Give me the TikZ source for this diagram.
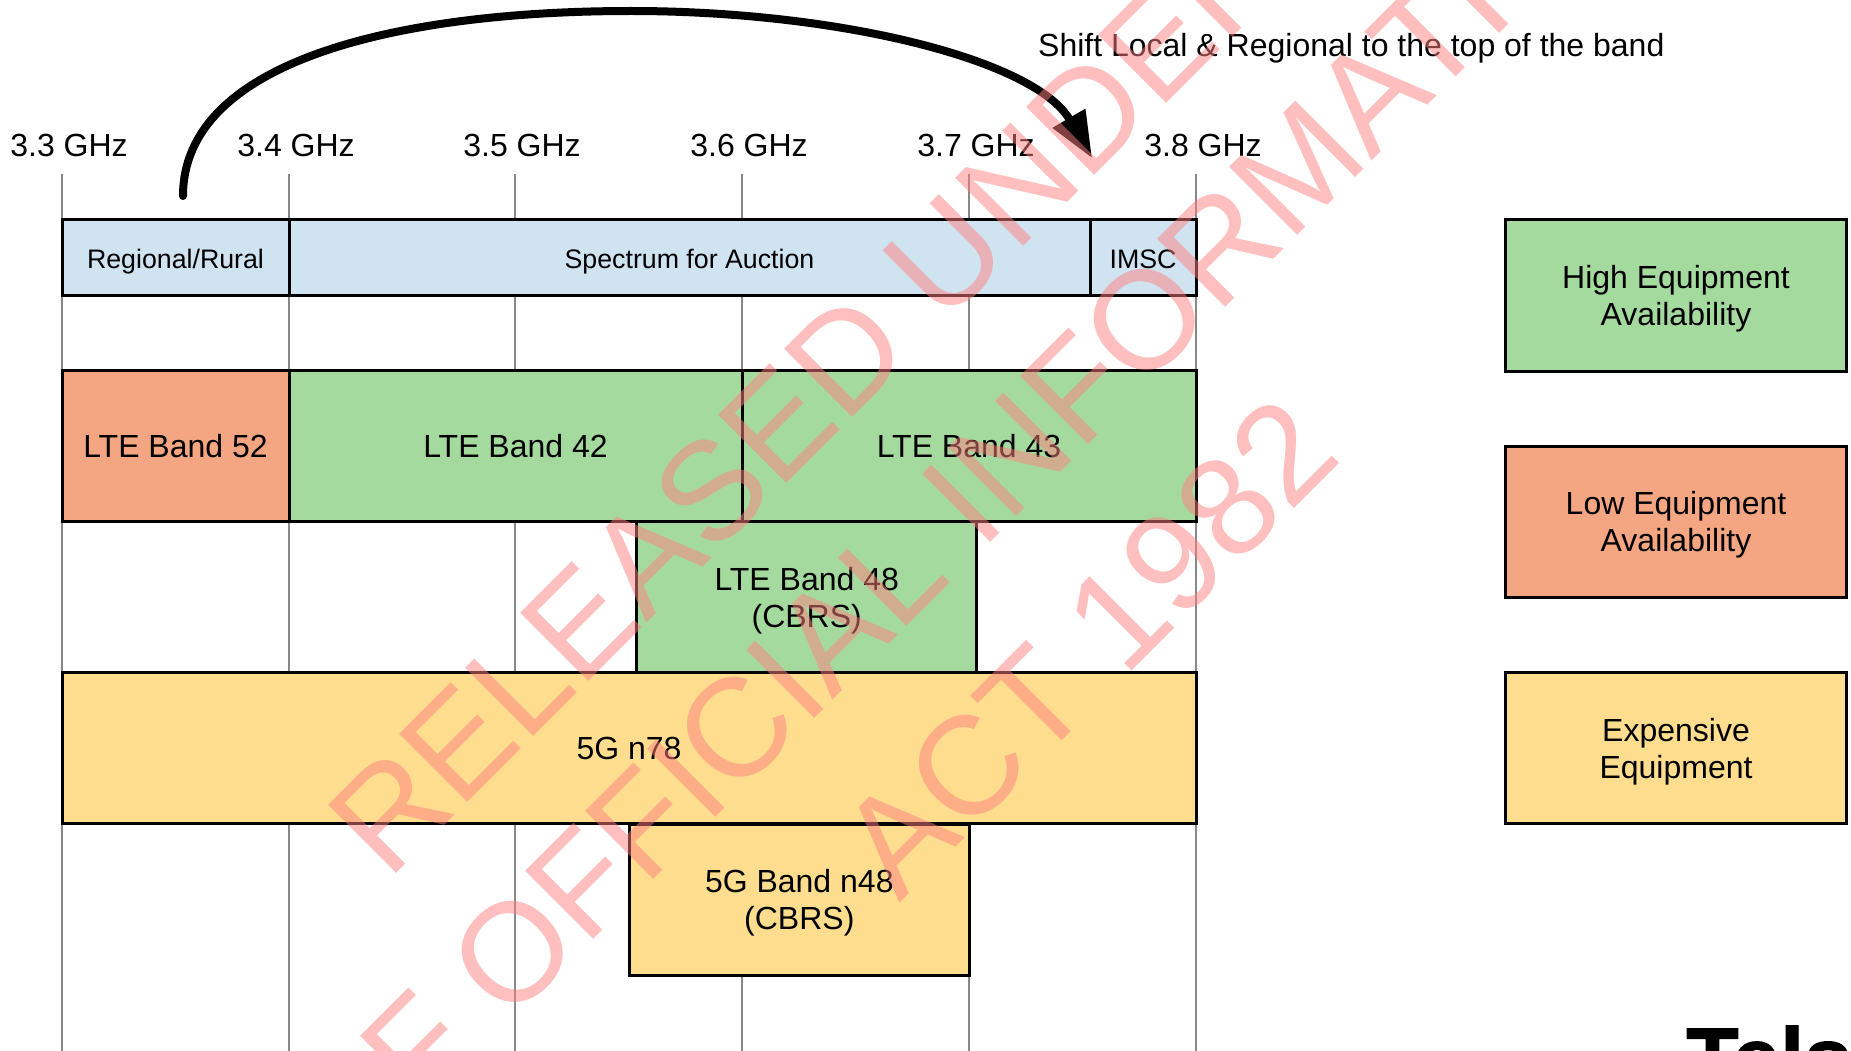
\documentclass[tikz,border=0pt]{standalone}
\usepackage{fontspec}
\setmainfont{Liberation Sans}
\newfontfamily\logofont[FakeBold=1.5]{Liberation Sans Bold}
\usetikzlibrary{arrows.meta}
\definecolor{cblue}{HTML}{D0E3F0}
\definecolor{cgreen}{HTML}{A5DA9E}
\definecolor{corange}{HTML}{F4A683}
\definecolor{cyellow}{HTML}{FEDD8E}
\definecolor{cgrid}{HTML}{888888}
\definecolor{cstamp}{HTML}{FF8080}
\tikzset{
  x=1pt,y=-1pt,
  bandbox/.style={draw=black,line width=3pt,rectangle,inner sep=0pt,outer sep=0pt,align=center,font=\fontsize{32}{37}\selectfont},
  smallbox/.style={bandbox,fill=cblue,font=\fontsize{26.75}{31}\selectfont,text height=22pt,text depth=0pt},
  greenbox/.style={bandbox,fill=cgreen},
  orangebox/.style={bandbox,fill=corange},
  yellowbox/.style={bandbox,fill=cyellow},
  twolines/.style={text depth=0pt},
  ticklabel/.style={font=\fontsize{32}{37}\selectfont,inner sep=0pt},
  gridline/.style={draw=cgrid,line width=2pt},
  bigarrow/.style={draw=black,line width=8pt,line cap=round,-{Triangle[length=46pt,width=36pt]}},
  stamp/.style={text=cstamp,opacity=0.5,font=\fontsize{140}{140}\selectfont,rotate=45,inner sep=0pt},
  logo/.style={font=\fontsize{86}{86}\selectfont\logofont,inner sep=0pt,anchor=base west},
}
\begin{document}
\begin{tikzpicture}
\useasboundingbox (0,0) rectangle (1851,1051);
\clip (0,0) rectangle (1851,1051);
\fill[white] (0,0) rectangle (1851,1051);
% grid
\foreach \n/\x/\lab/\lx in {a/62/3.3/69,b/289/3.4/296,c/515/3.5/522,d/742/3.6/749,e/969/3.7/976,f/1196/3.8/1203}{
  \coordinate (top\n) at (\x,174);
  \coordinate (bot\n) at (\x,1051);
  \draw[gridline] (top\n) -- (bot\n);
  \node[ticklabel] (lab\n) at (\lx,145) {\lab\ GHz};
}
% spectrum row
\node[smallbox,minimum width=227pt,minimum height=76pt] (regional) at (175.5,257) {Regional/Rural};
\node[smallbox,minimum width=801pt,minimum height=76pt] (auction) at (689.5,257) {Spectrum for Auction};
\node[smallbox,minimum width=106pt,minimum height=76pt] (imsc) at (1143,257) {IMSC};
% bands
\node[greenbox,twolines,minimum width=340.5pt,minimum height=151pt] (b48) at (806.7,597) {LTE Band 48\\(CBRS)};
\node[orangebox,minimum width=227pt,minimum height=151pt] (b52) at (175.5,446) {LTE Band 52};
\node[greenbox,minimum width=453pt,minimum height=151pt] (b42) at (515.5,446) {LTE Band 42};
\node[greenbox,minimum width=454pt,minimum height=151pt] (b43) at (969,446) {LTE Band 43};
\node[yellowbox,twolines,minimum width=339.5pt,minimum height=151pt] (n48) at (799.3,899.5) {5G Band n48\\(CBRS)};
\node[yellowbox,minimum width=1134pt,minimum height=151pt] (n78) at (629,748) {5G n78};
% legend
\node[greenbox,twolines,minimum width=341pt,minimum height=152pt] (lhigh) at (1676,295) {High Equipment\\Availability};
\node[orangebox,twolines,minimum width=341pt,minimum height=151pt] (llow) at (1676,521.5) {Low Equipment\\Availability};
\node[yellowbox,twolines,minimum width=341pt,minimum height=151pt] (lexp) at (1676,748) {Expensive\\Equipment};
% arrow
\node[ticklabel,anchor=west] (shift) at (1038,48) {Shift Local \& Regional to the top of the band};
\coordinate (arrowfrom) at (183,196);
\coordinate (arrowapex) at (631,11);
\coordinate (arrowto) at (1092,158);
\draw[bigarrow] (arrowfrom) .. controls (183,60) and (400,11) .. (arrowapex)
  .. controls (840,11) and (1035,60) .. (arrowto);
% logo
\node[logo] (telstra) at (1686,1088) {Telstra};
% watermark
\node[stamp,anchor=base west] (w1) at (388,882) {RELEASED UNDER};
\node[stamp,anchor=base west] (w2) at (343,1190) {OF OFFICIAL INFORMATION};
\node[stamp,anchor=base west] (w3) at (899,904) {ACT 1982};
\end{tikzpicture}
\end{document}
